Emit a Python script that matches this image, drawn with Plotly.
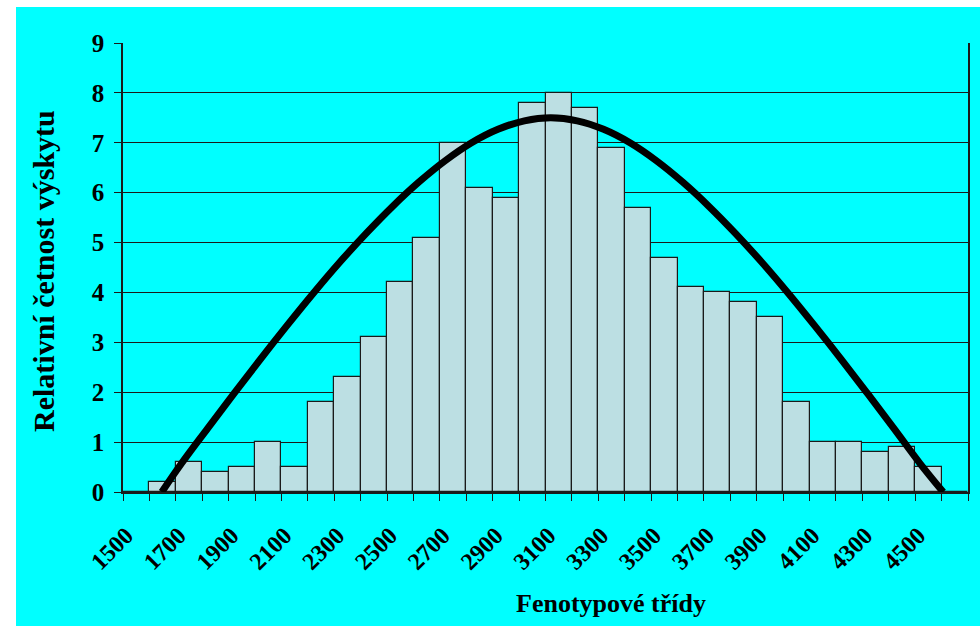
import plotly.graph_objects as go

# Phenotype classes (category centres) and relative frequencies
categories = [1500, 1600, 1700, 1800, 1900, 2000, 2100, 2200, 2300, 2400, 2500,
              2600, 2700, 2800, 2900, 3000, 3100, 3200, 3300, 3400, 3500, 3600,
              3700, 3800, 3900, 4000, 4100, 4200, 4300, 4400, 4500, 4600]
frequency = [0, 0.2, 0.6, 0.4, 0.5, 1.0, 0.5, 1.8, 2.3, 3.1, 4.2,
             5.1, 7.0, 6.1, 5.9, 7.8, 8.0, 7.7, 6.9, 5.7, 4.7, 4.1,
             4.0, 3.8, 3.5, 1.8, 1.0, 1.0, 0.8, 0.9, 0.5, 0]

# Fitted curve, points
curve_x = [1597, 1670, 1770, 1870, 1970, 2070, 2170, 2270, 2370, 2470, 2570,
           2670, 2770, 2870, 2970, 3070, 3170, 3270, 3370, 3470, 3570, 3670,
           3770, 3870, 3970, 4070, 4170, 4270, 4370, 4470, 4556]
curve_y = [0, 0.56, 1.27, 1.97, 2.66, 3.33, 3.98, 4.60, 5.18, 5.72, 6.21,
           6.64, 7.00, 7.27, 7.44, 7.5, 7.44, 7.27, 7.00, 6.64, 6.21, 5.72,
           5.18, 4.60, 3.98, 3.33, 2.66, 1.97, 1.27, 0.56, 0]

tick_values = [1500, 1700, 1900, 2100, 2300, 2500, 2700, 2900, 3100, 3300,
               3500, 3700, 3900, 4100, 4300, 4500]
tick_labels = [str(v) for v in tick_values]

y_title = "Relativní četnost výskytu"
x_title = "Fenotypové třídy"

W, H = 980, 626
L, R, T, B = 123, 12, 43, 134
PW, PH = W - L - R, H - T - B

def px(xs):
    return (xs - L) / PW

def py(ys):
    return (H - B - ys) / PH

CYAN = "#00FFFF"
DARK = "#1a1a1a"
FONT = "Liberation Serif"

fig = go.Figure()
fig.add_trace(go.Bar(
    x=categories, y=frequency, width=100,
    marker=dict(color="#BCDFE3", line=dict(color=DARK, width=1.2)),
    showlegend=False, hoverinfo="x+y",
))
fig.add_trace(go.Scatter(
    x=curve_x, y=curve_y, mode="lines",
    line=dict(color="black", width=7, shape="spline", smoothing=1.0),
    showlegend=False,
))

fig.update_layout(
    width=W, height=H,
    margin=dict(l=L, r=R, t=T, b=B, autoexpand=False),
    paper_bgcolor=CYAN, plot_bgcolor=CYAN,
    bargap=0,
    font=dict(family=FONT, color="black"),
    xaxis=dict(
        range=[1450, 4650], tickmode="array", tickvals=tick_values, ticktext=tick_labels,
        ticks="", tickangle=-45, ticklabelstandoff=18, ticklabelshift=-10,
        tickfont=dict(family=FONT, size=24, weight="bold", color="black"),
        showgrid=False, zeroline=False,
        showline=True, linecolor=DARK, linewidth=2,
        minor=dict(ticks="outside", ticklen=7, tickwidth=1.2, tickcolor=DARK,
                   tickmode="linear", tick0=1450, dtick=100, showgrid=False),
    ),
    yaxis=dict(
        range=[0, 9], tickmode="linear", tick0=0, dtick=1,
        ticks="outside", ticklen=7, tickwidth=1.2, tickcolor=DARK,
        ticklabelstandoff=5,
        tickfont=dict(family=FONT, size=25, weight="bold", color="black"),
        showgrid=True, gridcolor=DARK, gridwidth=1.3,
        zeroline=False, showline=True, linecolor=DARK, linewidth=1.5, mirror=True,
    ),
    annotations=[
        dict(text=x_title, xref="paper", yref="paper", x=px(611), y=py(603),
             xanchor="center", yanchor="middle", showarrow=False,
             font=dict(family=FONT, size=26, weight="bold", color="black")),
        dict(text=y_title, xref="paper", yref="paper", x=px(43), y=py(271),
             xanchor="center", yanchor="middle", showarrow=False, textangle=-90,
             font=dict(family=FONT, size=30, weight="bold", color="black")),
    ],
    shapes=[
        dict(type="rect", xref="paper", yref="paper", x0=px(-2), x1=px(16),
             y0=py(H + 2), y1=py(-2), fillcolor="white", line=dict(width=0), layer="above"),
        dict(type="rect", xref="paper", yref="paper", x0=px(-2), x1=px(W + 2),
             y0=py(7), y1=py(-2), fillcolor="white", line=dict(width=0), layer="above"),
    ],
)

fig.write_html(
    "out.html",
    config={"displayModeBar": False},
    post_script="document.body.style.margin='0';document.body.style.overflow='hidden';",
)
